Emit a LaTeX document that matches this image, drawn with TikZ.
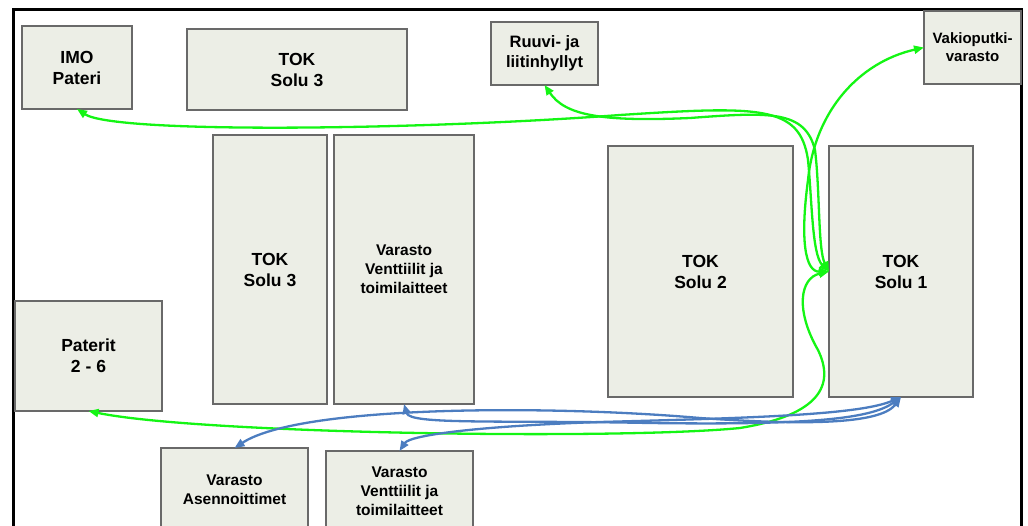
\documentclass[tikz,border=0pt]{standalone}
\usepackage{fontspec}
\setmainfont{Liberation Sans}
\usetikzlibrary{arrows.meta}
\definecolor{boxfill}{RGB}{236,238,230}
\definecolor{boxline}{RGB}{105,105,105}
\definecolor{flowgreen}{RGB}{20,245,20}
\definecolor{flowblue}{RGB}{76,125,192}

\begin{document}
\begin{tikzpicture}[x=1pt, y=-1pt, >={Triangle[length=10pt,width=8pt]},
    main/.style = {draw=boxline, fill=boxfill, line width=1.2pt, rectangle, outer sep=0pt, align=center, font=\bfseries\fontsize{17.5}{21}\selectfont},
    small/.style = {font=\bfseries\fontsize{15.5}{19}\selectfont},
    green/.style = {draw=flowgreen, line width=2.3pt, <->},
    blue/.style = {draw=flowblue, line width=2.3pt, <->}]
    \useasboundingbox (0,0) rectangle (1028,526);
    \clip (0,0) rectangle (1028,526);
    \draw[line width=3pt] (13,530) -- (13,9.5) -- (1021,9.5) -- (1021,530);

    \node[main, minimum width=110pt, minimum height=83pt] (1) at (77,67.5) {IMO\\Pateri};
    \node[main, minimum width=220pt, minimum height=81pt] (2) at (297,69.5) {TOK\\Solu 3};
    \node[main, minimum width=107pt, minimum height=63pt, font=\bfseries\fontsize{16.5}{20}\selectfont] (3) at (544.5,53.5) {Ruuvi- ja\\liitinhyllyt};
    \node[main, minimum width=97pt, minimum height=73pt, font=\bfseries\fontsize{15}{18}\selectfont] (4) at (972.5,47.5) {Vakioputki-\\varasto};
    \node[main, minimum width=114pt, minimum height=269pt] (5) at (270,269.5) {TOK\\Solu 3};
    \node[main, small, minimum width=140pt, minimum height=269pt] (6) at (404,269.5) {Varasto\\Venttiilit ja\\toimilaitteet};
    \node[main, minimum width=185pt, minimum height=251pt] (7) at (700.5,271.5) {TOK\\Solu 2};
    \node[main, minimum width=144pt, minimum height=251pt] (8) at (901,271.5) {TOK\\Solu 1};
    \node[main, minimum width=147pt, minimum height=110pt] (9) at (88.5,356) {Paterit\\2 - 6};
    \node[main, small, minimum width=147pt, minimum height=83pt] (10) at (234.5,489.5) {Varasto\\Asennoittimet};
    \node[main, small, minimum width=147pt, minimum height=80pt] (11) at (399.5,491) {Varasto\\Venttiilit ja\\toimilaitteet};

    \draw[green] (8.west) .. controls (812,255) and (812,200) .. (808,160) .. controls (800,105) and (760,106) .. (620,115) .. controls (420,130) and (115,134) .. (1.south);
    \draw[green] (8.west) .. controls (818,250) and (820,190) .. (815,150) .. controls (805,110) and (770,112) .. (690,118) .. controls (600,122) and (565,115) .. (3.south);
    \draw[green] (8.west) .. controls (805,272) and (800,240) .. (808,180) .. controls (815,110) and (860,62) .. (4.west);
    \draw[green] (8.west) .. controls (800,278) and (795,310) .. (818,350) .. controls (835,385) and (820,415) .. (740,428) .. controls (620,440) and (200,434) .. (9.south);

    \draw[blue] (8.south) .. controls (880,425) and (800,425) .. (700,418) .. controls (550,405) and (300,405) .. (10.north);
    \draw[blue] (8.south) .. controls (870,420) and (800,425) .. (650,423) .. controls (500,420) and (410,425) .. (6.south);
    \draw[blue] (8.south) .. controls (860,415) and (750,418) .. (600,422) .. controls (480,426) and (410,435) .. (11.north);
\end{tikzpicture}
\end{document}
